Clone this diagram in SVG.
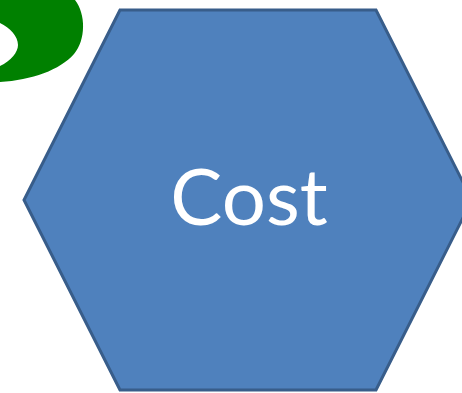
<svg xmlns="http://www.w3.org/2000/svg" width="462" height="393" viewBox="0 0 462 393">
<style>
.hex{fill:#4f81bd;stroke:#385d8a;stroke-width:3;stroke-linejoin:miter}
.lbl{font-family:Lato,"Open Sans","Liberation Sans",sans-serif;font-size:78px;fill:#ffffff;text-anchor:middle}
</style>
<rect width="462" height="393" fill="#ffffff"/>
<g id="green-arrow">
<path d="M0,0 L75,0 C86,14 86,40 74,54 C60,70 32,80 0,82 L0,66 C11,61 18,52 18,45 C18,36 10,28 0,23 Z" fill="#008000"/>
</g>
<g id="connectors"></g>
<g id="cost">
<polygon class="hex" points="120,10 376,10 472,200 376,390 120,390 24,200"/>
<text class="lbl" x="249" y="225">Cost</text>
</g>
</svg>
